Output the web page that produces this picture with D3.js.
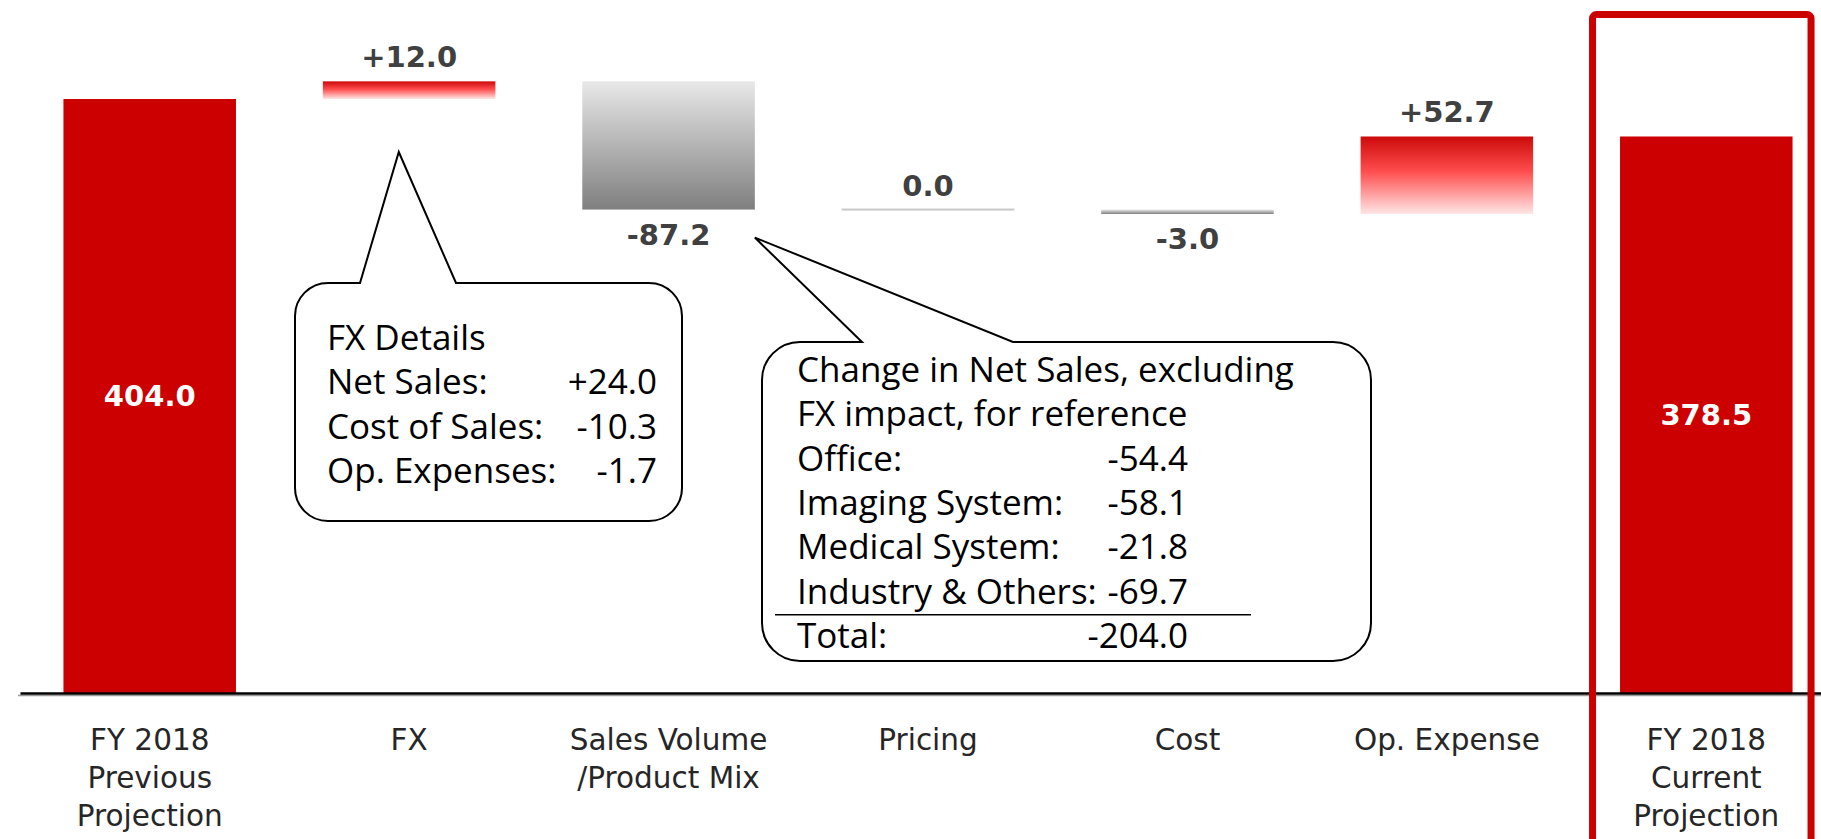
<!DOCTYPE html>
<html>
<head>
<meta charset="utf-8">
<script src="https://cdn.jsdelivr.net/npm/d3@7"></script>
<style>
  body { margin: 0; background: #fff; }
  svg { display: block; }
</style>
</head>
<body>
<svg id="chart" width="1821" height="839"></svg>
<script>
/*
 Data
*/
var categories = ["prev", "fx", "volume", "pricing", "cost", "opex", "current"];
var categoryLabels = [
    ["FY 2018", "Previous", "Projection"],
    ["FX"],
    ["Sales Volume", "/Product Mix"],
    ["Pricing"],
    ["Cost"],
    ["Op. Expense"],
    ["FY 2018", "Current", "Projection"]
];
var values = [404.0, 12.0, -87.2, 0.0, -3.0, 52.7, 378.5];
var kinds = ["total", "delta", "delta", "delta", "delta", "delta", "total"];

// callout tables
var fxDetailLabels = ["Net Sales:", "Cost of Sales:", "Op. Expenses:"];
var fxDetailValues = ["+24.0", "-10.3", "-1.7"];
var segmentLabels = ["Office:", "Imaging System:", "Medical System:", "Industry & Others:"];
var segmentValues = ["-54.4", "-58.1", "-21.8", "-69.7"];
var segmentTotal = "-204.0";

/*
 Setup
*/
var svg = d3.select("#chart");
var baseY = 693;

var x = d3.scaleBand()
    .domain(categories)
    .range([20, 1836])
    .paddingInner(0.335)
    .paddingOuter(0.1675);

var y = d3.scaleLinear()
    .domain([0, 404])
    .range([baseY, 99]);

// waterfall start / end per bar
var run = 0;
var bars = values.map(function (v, i) {
    var lo, hi;
    if (kinds[i] === "total") {
        run = v;
        lo = 0; hi = v;
    } else {
        var start = run;
        run += v;
        lo = Math.min(start, run);
        hi = Math.max(start, run);
    }
    return { key: categories[i], value: v, kind: kinds[i], lo: lo, hi: hi };
});

// gradients
var defs = svg.append("defs");
var redGrad = defs.append("linearGradient").attr("id", "redGrad")
    .attr("x1", 0).attr("y1", 0).attr("x2", 0).attr("y2", 1);
redGrad.append("stop").attr("offset", "0%").attr("stop-color", "#cc0a0a");
redGrad.append("stop").attr("offset", "45%").attr("stop-color", "#ff4d4d");
redGrad.append("stop").attr("offset", "100%").attr("stop-color", "#ffe6e6");

var grayGrad = defs.append("linearGradient").attr("id", "grayGrad")
    .attr("x1", 0).attr("y1", 0).attr("x2", 0).attr("y2", 1);
grayGrad.append("stop").attr("offset", "0%").attr("stop-color", "#e8e8e8");
grayGrad.append("stop").attr("offset", "100%").attr("stop-color", "#7f7f7f");

function barFill(d) {
    if (d.kind === "total") return "#cc0000";
    return d.value > 0 ? "url(#redGrad)" : "url(#grayGrad)";
}

/*
 Bars
*/
svg.append("g").selectAll("rect")
    .data(bars)
    .enter().append("rect")
    .attr("x", function (d) { return x(d.key); })
    .attr("width", x.bandwidth())
    .attr("y", function (d) {
        var h = y(d.lo) - y(d.hi);
        return h < 2 ? y(d.hi) - 1 : y(d.hi);
    })
    .attr("height", function (d) { return Math.max(y(d.lo) - y(d.hi), 2); })
    .attr("fill", function (d) { return d.value === 0 ? "#c8c8c8" : barFill(d); });

// value labels
function fmt(d) {
    if (d.kind === "total") return d.value.toFixed(1);
    return (d.value > 0 ? "+" : "") + d.value.toFixed(1);
}

svg.append("g").selectAll("text")
    .data(bars)
    .enter().append("text")
    .attr("x", function (d) { return x(d.key) + x.bandwidth() / 2; })
    .attr("y", function (d) {
        if (d.kind === "total") return (y(d.hi) + y(0)) / 2;
        if (d.value >= 0) return y(d.hi) - 14;
        return y(d.lo) + 35;
    })
    .attr("dy", function (d) { return d.kind === "total" ? "0.36em" : null; })
    .attr("text-anchor", "middle")
    .attr("font-family", "DejaVu Sans, Verdana, sans-serif")
    .attr("font-weight", "bold")
    .attr("font-size", 29)
    .attr("fill", function (d) { return d.kind === "total" ? "#fff" : "#404040"; })
    .text(fmt);

/*
 Axis with multi line category labels
*/
var axis = svg.append("g")
    .attr("transform", "translate(0," + baseY + ")")
    .call(d3.axisBottom(x).tickSize(0).tickSizeOuter(0));

axis.select(".domain").attr("stroke", "#000").attr("stroke-width", 2.5);
axis.insert("line", ".domain")
    .attr("x1", 18).attr("x2", 1821)
    .attr("y1", 2.5).attr("y2", 2.5)
    .attr("stroke", "#9a9a9a").attr("stroke-width", 1.5);

axis.selectAll(".tick text").each(function (d, i) {
    var t = d3.select(this);
    t.text(null)
        .attr("y", 0).attr("dy", null)
        .attr("font-family", "DejaVu Sans, Verdana, sans-serif")
        .attr("font-size", 29.5)
        .attr("fill", "#262626");
    categoryLabels[i].forEach(function (line, j) {
        t.append("tspan").attr("x", 0).attr("y", 57 + j * 38).text(line);
    });
});

/*
 Red frame around current projection
*/
var lastKey = categories[categories.length - 1];
svg.append("rect")
    .attr("x", x(lastKey) - 27.5)
    .attr("y", 14.5)
    .attr("width", x.bandwidth() + 46)
    .attr("height", 900)
    .attr("rx", 4)
    .attr("fill", "none")
    .attr("stroke", "#cc0000")
    .attr("stroke-width", 7);

/*
 Callouts
*/
function calloutPath(x0, y0, x1, y1, r, b1, b2, tx, ty) {
    var p = d3.path();
    p.moveTo(x0 + r, y0);
    p.lineTo(b1, y0);
    p.lineTo(tx, ty);
    p.lineTo(b2, y0);
    p.arcTo(x1, y0, x1, y0 + r, r);
    p.arcTo(x1, y1, x1 - r, y1, r);
    p.arcTo(x0, y1, x0, y1 - r, r);
    p.arcTo(x0, y0, x0 + r, y0, r);
    p.closePath();
    return p.toString();
}

var calloutFont = "Open Sans, Noto Sans, sans-serif";
var lineStep = 44.3;

// FX details callout
var fxTipX = x("fx") + x.bandwidth() * 0.44;
var fxTipY = y(404) + 53;
svg.append("path")
    .attr("d", calloutPath(295, 283, 682, 521, 33, 360, 456, fxTipX, fxTipY))
    .attr("fill", "#fff")
    .attr("stroke", "#000")
    .attr("stroke-width", 2);

var fxText = svg.append("g")
    .attr("font-family", calloutFont)
    .attr("font-size", 35)
    .attr("fill", "#000");
fxText.append("text").attr("x", 327).attr("y", 350).text("FX Details");
fxDetailLabels.forEach(function (lab, i) {
    var yy = 350 + (i + 1) * lineStep;
    fxText.append("text").attr("x", 327).attr("y", yy).text(lab);
    fxText.append("text").attr("x", 657).attr("y", yy)
        .attr("text-anchor", "end").text(fxDetailValues[i]);
});

// Sales volume callout
var volBar = bars[2];
var volTipX = x("volume") + x.bandwidth() + 0;
var volTipY = y(volBar.lo) + 28;
svg.append("path")
    .attr("d", calloutPath(762, 342, 1371, 661, 38, 862, 1013, volTipX, volTipY))
    .attr("fill", "#fff")
    .attr("stroke", "#000")
    .attr("stroke-width", 2);

var volText = svg.append("g")
    .attr("font-family", calloutFont)
    .attr("font-size", 35)
    .attr("fill", "#000");
volText.append("text").attr("x", 797).attr("y", 382).text("Change in Net Sales, excluding");
volText.append("text").attr("x", 797).attr("y", 382 + lineStep).text("FX impact, for reference");
segmentLabels.forEach(function (lab, i) {
    var yy = 382 + (i + 2) * lineStep;
    volText.append("text").attr("x", 797).attr("y", yy).text(lab);
    volText.append("text").attr("x", 1188).attr("y", yy)
        .attr("text-anchor", "end").text(segmentValues[i]);
});
var totalY = 382 + 6 * lineStep;
volText.append("line")
    .attr("x1", 775).attr("x2", 1251)
    .attr("y1", totalY - 33).attr("y2", totalY - 33)
    .attr("stroke", "#000").attr("stroke-width", 1.5);
volText.append("text").attr("x", 797).attr("y", totalY).text("Total:");
volText.append("text").attr("x", 1188).attr("y", totalY)
    .attr("text-anchor", "end").text(segmentTotal);
</script>
</body>
</html>
